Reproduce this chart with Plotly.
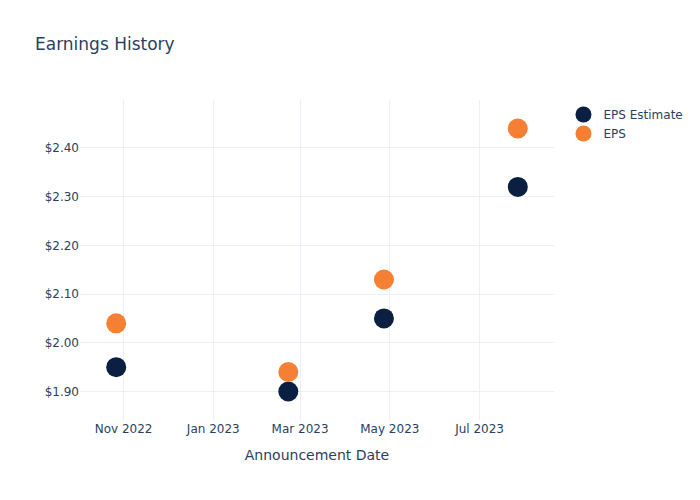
import plotly.graph_objects as go

dates = ["2022-10-27", "2023-02-21", "2023-04-27", "2023-07-27"]
eps_estimate = [1.95, 1.90, 2.05, 2.32]
eps_actual = [2.04, 1.94, 2.13, 2.44]

fig = go.Figure()
fig.add_trace(go.Scatter(x=dates, y=eps_estimate, mode="markers", name="EPS Estimate",
                         marker=dict(color="#0b1f42", size=20)))
fig.add_trace(go.Scatter(x=dates, y=eps_actual, mode="markers", name="EPS",
                         marker=dict(color="#f58033", size=20)))
fig.update_layout(
    template="plotly_white",
    font=dict(family="DejaVu Sans"),
    title=dict(text="Earnings History"),
    width=700, height=500,
    xaxis=dict(title="Announcement Date"),
    yaxis=dict(tickprefix="$", tickformat=".2f"),
)
fig.write_html("out.html")
